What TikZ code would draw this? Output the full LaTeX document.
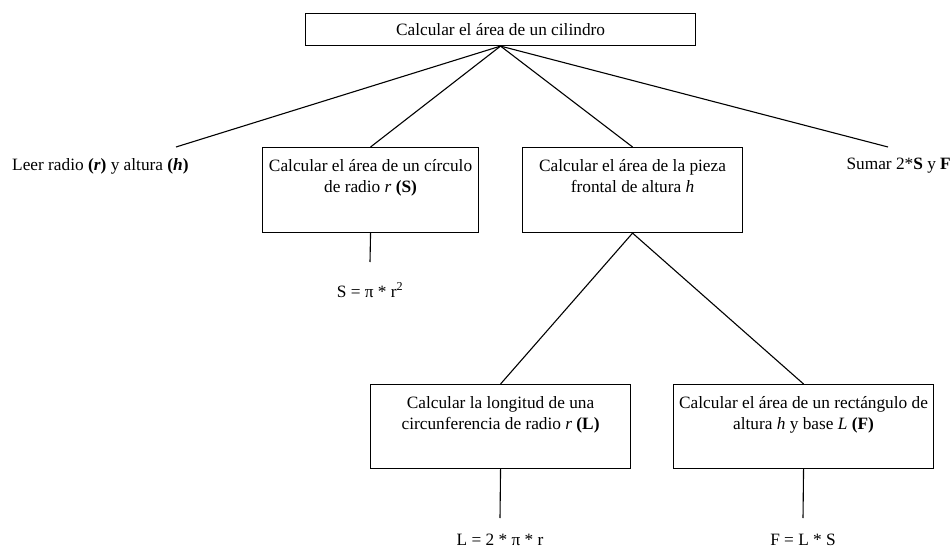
\documentclass[tikz,border=0pt]{standalone}
\usepackage{fontspec}
\setmainfont{Liberation Serif}
\begin{document}
\begin{tikzpicture}[x=1pt,y=-1pt,
  every node/.style={font=\fontsize{17.3}{20.7}\selectfont, inner sep=0pt},
  box/.style={draw, line width=1.1pt, rectangle, anchor=north west},
  conn/.style={line width=1.1pt},
  lbl/.style={anchor=base}]
\useasboundingbox (0,0) rectangle (952,548);
% boxes
\node[box, minimum width=390pt, minimum height=32pt] (top) at (305,13) {Calcular el área de un cilindro};
\node[box] (S) at (262,147) {\parbox[t][85pt][t]{216pt}{\centering\rule{0pt}{24pt}Calcular el área de un círculo\\ de radio \textit{r} \textbf{(S)}}};
\node[box] (P) at (522,147) {\parbox[t][85pt][t]{220pt}{\centering\rule{0pt}{24pt}Calcular el área de la pieza\\ frontal de altura \textit{h}}};
\node[box] (L) at (370,384) {\parbox[t][84pt][t]{260pt}{\centering\rule{0pt}{24pt}Calcular la longitud de una\\ circunferencia de radio \textit{r} \textbf{(L)}}};
\node[box] (F) at (673,384) {\parbox[t][84pt][t]{260pt}{\centering\rule{0pt}{24pt}Calcular el área de un rectángulo de\\ altura \textit{h} y base \textit{L} \textbf{(F)}}};
% free texts
\node[anchor=base west] (leer) at (12,171) {Leer radio \textbf{(\textit{r})} y altura \textbf{(\textit{h})}};
\node[anchor=base east] (sumar) at (951,170) {Sumar 2*\textbf{S} y \textbf{F}};
\node[lbl] (sf) at (370,297) {S = π * r\textsuperscript{2}};
\node[lbl] (lf) at (500,545) {L = 2 * π * r};
\node[lbl] (ff) at (803,545) {F = L * S};
% free ends
\coordinate (leerc) at (176,147);
\coordinate (sumarc) at (888,147);
\coordinate (sEnd) at (370,262);
\coordinate (lEnd) at (500,518);
\coordinate (fEnd) at (803,518);
% connectors
\draw[conn] (top.south) -- (leerc);
\draw[conn] (top.south) -- (S.north);
\draw[conn] (top.south) -- (P.north);
\draw[conn] (top.south) -- (sumarc);
\draw[conn] (S.south) -- (sEnd);
\draw[conn] (P.south) -- (L.north);
\draw[conn] (P.south) -- (F.north);
\draw[conn] (L.south) -- (lEnd);
\draw[conn] (F.south) -- (fEnd);
\end{tikzpicture}
\end{document}
